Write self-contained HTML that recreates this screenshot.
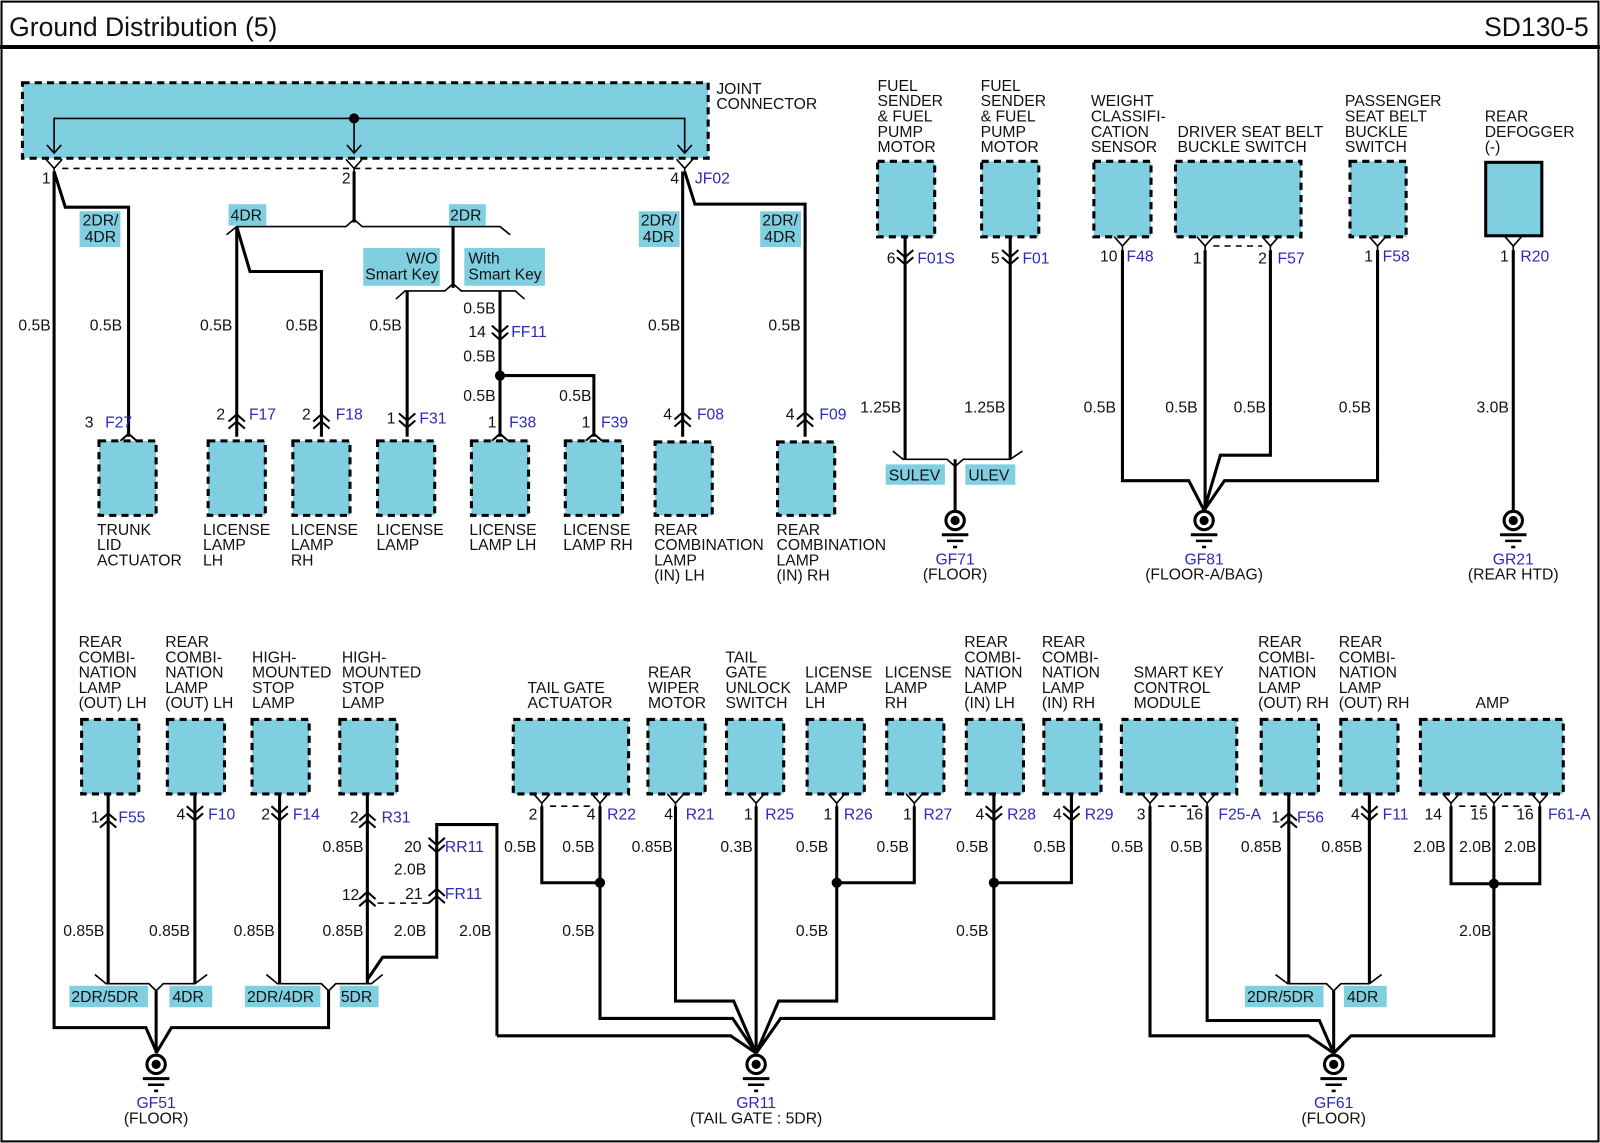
<!DOCTYPE html>
<html><head><meta charset="utf-8"><style>
html,body{margin:0;padding:0;background:#fff}
svg{display:block}
text{font-family:"Liberation Sans",Arial,sans-serif;font-size:15.4px;fill:#111}
.b{fill:#2a2ab8}
.ti{font-size:26px}
.c{text-anchor:middle}
.w{fill:none;stroke:#000;stroke-width:3}
.n{fill:none;stroke:#000;stroke-width:1.6}
.d{fill:none;stroke:#000;stroke-width:1.5;stroke-dasharray:6 5}
.bx{fill:#80cfe1;stroke:#000;stroke-width:3;stroke-dasharray:7 5}
.tag{fill:#80cfe1}
</style></head><body>
<svg width="1600" height="1143" viewBox="0 0 1568 1120" xmlns="http://www.w3.org/2000/svg">
<defs>
<g id="gnd"><circle r="9" fill="#fff" stroke="#000" stroke-width="3"/><circle r="4.5" fill="#000"/><path d="M-13,14H13" stroke="#000" stroke-width="3"/><path d="M-8,20H8" stroke="#000" stroke-width="2.5"/><path d="M-2,26H2" stroke="#000" stroke-width="2.5"/></g>
<path id="pv" d="M-8,0 L0,9 L8,0 M0,9 V13" fill="none" stroke="#000" stroke-width="1.6"/>
<path id="dd" d="M-8,-10 L0,-3 L8,-10 M-8,-3 L0,4 L8,-3" fill="none" stroke="#000" stroke-width="2"/>
<path id="uu" d="M-8,3 L0,-4 L8,3 M-8,10 L0,3 L8,10" fill="none" stroke="#000" stroke-width="2"/>
<path id="u1" d="M-8,7 L0,0 L8,7" fill="none" stroke="#000" stroke-width="2"/>
</defs>
<rect x="1.5" y="1.5" width="1565" height="1117" fill="none" stroke="#000" stroke-width="2"/>
<path d="M0,46H1568" stroke="#000" stroke-width="4"/>
<text x="9" y="35" class="ti">Ground Distribution (5)</text>
<text x="1557" y="35" class="ti" text-anchor="end">SD130-5</text>

<rect x="22" y="81" width="672" height="74" class="bx"/>
<path d="M53,150V116H671V150M347,116V150" class="n"/>
<circle cx="347" cy="116" r="5" fill="#000"/>
<path d="M46,142L53,150L60,142M340,142L347,150L354,142M664,142L671,150L678,142" class="n"/>
<use href="#pv" x="53" y="156"/><use href="#pv" x="347" y="156"/><use href="#pv" x="671" y="156"/>
<path d="M61,165H663" class="d"/>
<text x="702" y="92">JOINT</text><text x="702" y="107">CONNECTOR</text>
<text x="41" y="180">1</text><text x="335" y="180">2</text><text x="657" y="180">4</text><text x="681" y="180" class="b">JF02</text>

<path d="M53,168V1007H143L153,1030" class="w"/>
<path d="M53,168L64,203H126V428" class="w"/>
<rect x="78" y="207" width="40" height="35" class="tag"/><text x="81" y="221">2DR/</text><text x="83" y="237">4DR</text>
<text x="18" y="324">0.5B</text><text x="88" y="324">0.5B</text>
<use href="#u1" x="126" y="425"/><text x="83" y="419">3</text><text x="103" y="419" class="b">F27</text>
<rect x="97" y="432" width="56" height="73" class="bx"/>
<text x="95" y="524">TRUNK</text><text x="95" y="539">LID</text><text x="95" y="554">ACTUATOR</text>

<path d="M347,168V218" class="w"/>
<path d="M222,230L232,222H339L347,215L355,222H490L500,230" class="n"/>
<path d="M232,222V428M232,222L245,266H315V428M444,222V282" class="w"/>
<rect x="224" y="200" width="37" height="21" class="tag"/><text x="226" y="216">4DR</text>
<rect x="440" y="200" width="36" height="21" class="tag"/><text x="441" y="216">2DR</text>
<path d="M388,293L397,285H436L444,278L452,285H505L514,293" class="n"/>
<rect x="356" y="243" width="75" height="37" class="tag"/><text x="398" y="258">W/O</text><text x="358" y="274">Smart Key</text>
<rect x="455" y="243" width="79" height="37" class="tag"/><text x="459" y="258">With</text><text x="459" y="274">Smart Key</text>
<path d="M399,285V428M490,285V428M490,368H582V428" class="w"/>
<circle cx="490" cy="368" r="5" fill="#000"/>
<use href="#uu" x="232" y="410"/><text x="212" y="411">2</text><text x="244" y="411" class="b">F17</text>
<use href="#uu" x="315" y="410"/><text x="296" y="411">2</text><text x="329" y="411" class="b">F18</text>
<use href="#dd" x="399" y="415"/><text x="379" y="415">1</text><text x="411" y="415" class="b">F31</text>
<use href="#dd" x="490" y="329"/><text x="459" y="330">14</text><text x="501" y="330" class="b">FF11</text>
<use href="#u1" x="490" y="425"/><text x="478" y="419">1</text><text x="499" y="419" class="b">F38</text>
<use href="#u1" x="582" y="425"/><text x="570" y="419">1</text><text x="589" y="419" class="b">F39</text>
<text x="196" y="324">0.5B</text><text x="280" y="324">0.5B</text><text x="362" y="324">0.5B</text>
<text x="454" y="307">0.5B</text><text x="454" y="354">0.5B</text><text x="454" y="393">0.5B</text><text x="548" y="393">0.5B</text>
<rect x="204" y="432" width="56" height="73" class="bx"/><rect x="287" y="432" width="56" height="73" class="bx"/>
<rect x="370" y="432" width="56" height="73" class="bx"/><rect x="462" y="432" width="56" height="73" class="bx"/>
<rect x="554" y="432" width="56" height="73" class="bx"/>
<text x="199" y="524">LICENSE</text><text x="199" y="539">LAMP</text><text x="199" y="554">LH</text>
<text x="285" y="524">LICENSE</text><text x="285" y="539">LAMP</text><text x="285" y="554">RH</text>
<text x="369" y="524">LICENSE</text><text x="369" y="539">LAMP</text>
<text x="460" y="524">LICENSE</text><text x="460" y="539">LAMP LH</text>
<text x="552" y="524">LICENSE</text><text x="552" y="539">LAMP RH</text>

<path d="M669,168V428M671,168L681,200H789V428" class="w"/>
<rect x="626" y="207" width="40" height="35" class="tag"/><text x="628" y="221">2DR/</text><text x="630" y="237">4DR</text>
<rect x="745" y="207" width="40" height="35" class="tag"/><text x="747" y="221">2DR/</text><text x="749" y="237">4DR</text>
<text x="635" y="324">0.5B</text><text x="753" y="324">0.5B</text>
<use href="#uu" x="669" y="408"/><text x="650" y="411">4</text><text x="683" y="411" class="b">F08</text>
<use href="#uu" x="789" y="408"/><text x="770" y="411">4</text><text x="803" y="411" class="b">F09</text>
<rect x="642" y="433" width="56" height="72" class="bx"/><rect x="762" y="433" width="56" height="72" class="bx"/>
<text x="641" y="524">REAR</text><text x="641" y="539">COMBINATION</text><text x="641" y="554">LAMP</text><text x="641" y="569">(IN) LH</text>
<text x="761" y="524">REAR</text><text x="761" y="539">COMBINATION</text><text x="761" y="554">LAMP</text><text x="761" y="569">(IN) RH</text>

<rect x="860" y="158" width="56" height="74" class="bx"/><rect x="962" y="158" width="56" height="74" class="bx"/>
<text x="860" y="89">FUEL</text><text x="860" y="104">SENDER</text><text x="860" y="119">&amp; FUEL</text><text x="860" y="134">PUMP</text><text x="860" y="149">MOTOR</text>
<text x="961" y="89">FUEL</text><text x="961" y="104">SENDER</text><text x="961" y="119">&amp; FUEL</text><text x="961" y="134">PUMP</text><text x="961" y="149">MOTOR</text>
<path d="M887,232V450M990,232V450M936,450V500" class="w"/>
<use href="#dd" x="887" y="255"/><text x="869" y="258">6</text><text x="899" y="258" class="b">F01S</text>
<use href="#dd" x="990" y="255"/><text x="971" y="258">5</text><text x="1002" y="258" class="b">F01</text>
<text x="843" y="404">1.25B</text><text x="945" y="404">1.25B</text>
<path d="M875,442L885,450H928L936,457L944,450H990L1002,442" class="n"/>
<rect x="868" y="455" width="58" height="20" class="tag"/><text x="871" y="471">SULEV</text>
<rect x="946" y="455" width="49" height="20" class="tag"/><text x="949" y="471">ULEV</text>
<use href="#gnd" x="936" y="510"/>
<text x="936" y="553" class="c b">GF71</text><text x="936" y="568" class="c">(FLOOR)</text>

<rect x="1072" y="158" width="56" height="74" class="bx"/><rect x="1152" y="158" width="123" height="74" class="bx"/>
<rect x="1323" y="158" width="55" height="74" class="bx"/>
<text x="1069" y="104">WEIGHT</text><text x="1069" y="119">CLASSIFI-</text><text x="1069" y="134">CATION</text><text x="1069" y="149">SENSOR</text>
<text x="1154" y="134">DRIVER SEAT BELT</text><text x="1154" y="149">BUCKLE SWITCH</text>
<text x="1318" y="104">PASSENGER</text><text x="1318" y="119">SEAT BELT</text><text x="1318" y="134">BUCKLE</text><text x="1318" y="149">SWITCH</text>
<use href="#pv" x="1100" y="232"/><use href="#pv" x="1181" y="232"/><use href="#pv" x="1245" y="232"/><use href="#pv" x="1350" y="232"/>
<path d="M1189,241H1237" class="d"/>
<text x="1078" y="256">10</text><text x="1104" y="256" class="b">F48</text>
<text x="1169" y="258">1</text><text x="1233" y="258">2</text><text x="1252" y="258" class="b">F57</text>
<text x="1337" y="256">1</text><text x="1355" y="256" class="b">F58</text>
<path d="M1100,245V471H1165L1180,500M1181,245V500M1245,245V446H1196L1180,500M1350,245V471H1200L1180,500" class="w"/>
<text x="1062" y="404">0.5B</text><text x="1142" y="404">0.5B</text><text x="1209" y="404">0.5B</text><text x="1312" y="404">0.5B</text>
<use href="#gnd" x="1180" y="510"/>
<text x="1180" y="553" class="c b">GF81</text><text x="1180" y="568" class="c">(FLOOR-A/BAG)</text>

<rect x="1456" y="159" width="55" height="72" fill="#80cfe1" stroke="#000" stroke-width="3"/>
<text x="1455" y="119">REAR</text><text x="1455" y="134">DEFOGGER</text><text x="1455" y="149">(-)</text>
<use href="#pv" x="1483" y="232"/>
<path d="M1483,245V500" class="w"/>
<text x="1470" y="256">1</text><text x="1490" y="256" class="b">R20</text>
<text x="1447" y="404">3.0B</text>
<use href="#gnd" x="1483" y="510"/>
<text x="1483" y="553" class="c b">GR21</text><text x="1483" y="568" class="c">(REAR HTD)</text>

<rect x="80" y="705" width="56" height="73" class="bx"/><rect x="164" y="705" width="56" height="73" class="bx"/>
<rect x="247" y="705" width="56" height="73" class="bx"/><rect x="333" y="705" width="56" height="73" class="bx"/>
<text x="77" y="634">REAR</text><text x="77" y="649">COMBI-</text><text x="77" y="664">NATION</text><text x="77" y="679">LAMP</text><text x="77" y="694">(OUT) LH</text>
<text x="162" y="634">REAR</text><text x="162" y="649">COMBI-</text><text x="162" y="664">NATION</text><text x="162" y="679">LAMP</text><text x="162" y="694">(OUT) LH</text>
<text x="247" y="649">HIGH-</text><text x="247" y="664">MOUNTED</text><text x="247" y="679">STOP</text><text x="247" y="694">LAMP</text>
<text x="335" y="649">HIGH-</text><text x="335" y="664">MOUNTED</text><text x="335" y="679">STOP</text><text x="335" y="694">LAMP</text>
<path d="M106,778V964M191,778V964M274,778V964M360,778V964" class="w"/>
<use href="#uu" x="106" y="801"/><text x="89" y="806">1</text><text x="116" y="806" class="b">F55</text>
<use href="#dd" x="191" y="800"/><text x="173" y="803">4</text><text x="204" y="803" class="b">F10</text>
<use href="#dd" x="274" y="800"/><text x="256" y="803">2</text><text x="287" y="803" class="b">F14</text>
<use href="#uu" x="360" y="801"/><text x="343" y="806">2</text><text x="374" y="806" class="b">R31</text>
<use href="#uu" x="360" y="878"/><text x="335" y="882">12</text>
<path d="M370,885H420" class="d"/>
<path d="M487,1015V808H428V938H375L360,960" class="w"/>
<use href="#dd" x="428" y="831"/><text x="396" y="835">20</text><text x="436" y="835" class="b">RR11</text>
<use href="#uu" x="428" y="875"/><text x="397" y="881">21</text><text x="436" y="881" class="b">FR11</text>
<text x="386" y="857">2.0B</text>
<text x="62" y="917">0.85B</text><text x="146" y="917">0.85B</text><text x="229" y="917">0.85B</text><text x="316" y="917">0.85B</text><text x="316" y="835">0.85B</text>
<text x="386" y="917">2.0B</text><text x="450" y="917">2.0B</text>
<path d="M93,955L104,964H146L153,971L160,964H191L203,955M261,955L272,964H315L322,971L329,964H364L375,955" class="n"/>
<path d="M153,971V1032M322,971V1007H168L153,1032" class="w"/>
<rect x="68" y="966" width="77" height="21" class="tag"/><text x="70" y="982">2DR/5DR</text>
<rect x="166" y="966" width="42" height="21" class="tag"/><text x="169" y="982">4DR</text>
<rect x="240" y="966" width="74" height="21" class="tag"/><text x="242" y="982">2DR/4DR</text>
<rect x="333" y="966" width="38" height="21" class="tag"/><text x="334" y="982">5DR</text>
<use href="#gnd" x="153" y="1043"/>
<text x="153" y="1086" class="c b">GF51</text><text x="153" y="1101" class="c">(FLOOR)</text>

<rect x="503" y="705" width="113" height="73" class="bx"/><rect x="635" y="705" width="56" height="73" class="bx"/>
<rect x="712" y="705" width="56" height="73" class="bx"/><rect x="791" y="705" width="56" height="73" class="bx"/>
<rect x="869" y="705" width="56" height="73" class="bx"/><rect x="947" y="705" width="56" height="73" class="bx"/>
<rect x="1023" y="705" width="56" height="73" class="bx"/>
<text x="517" y="679">TAIL GATE</text><text x="517" y="694">ACTUATOR</text>
<text x="635" y="664">REAR</text><text x="635" y="679">WIPER</text><text x="635" y="694">MOTOR</text>
<text x="711" y="649">TAIL</text><text x="711" y="664">GATE</text><text x="711" y="679">UNLOCK</text><text x="711" y="694">SWITCH</text>
<text x="789" y="664">LICENSE</text><text x="789" y="679">LAMP</text><text x="789" y="694">LH</text>
<text x="867" y="664">LICENSE</text><text x="867" y="679">LAMP</text><text x="867" y="694">RH</text>
<text x="945" y="634">REAR</text><text x="945" y="649">COMBI-</text><text x="945" y="664">NATION</text><text x="945" y="679">LAMP</text><text x="945" y="694">(IN) LH</text>
<text x="1021" y="634">REAR</text><text x="1021" y="649">COMBI-</text><text x="1021" y="664">NATION</text><text x="1021" y="679">LAMP</text><text x="1021" y="694">(IN) RH</text>
<use href="#pv" x="531" y="778"/><use href="#pv" x="588" y="778"/><use href="#pv" x="662" y="778"/><use href="#pv" x="741" y="778"/>
<use href="#pv" x="820" y="778"/><use href="#pv" x="896" y="778"/>
<path d="M539,790H580" class="d"/>
<text x="518" y="803">2</text><text x="575" y="803">4</text><text x="595" y="803" class="b">R22</text>
<text x="651" y="803">4</text><text x="672" y="803" class="b">R21</text>
<text x="729" y="803">1</text><text x="750" y="803" class="b">R25</text>
<text x="807" y="803">1</text><text x="827" y="803" class="b">R26</text>
<text x="885" y="803">1</text><text x="905" y="803" class="b">R27</text>
<use href="#dd" x="974" y="800"/><text x="956" y="803">4</text><text x="987" y="803" class="b">R28</text>
<use href="#dd" x="1050" y="800"/><text x="1032" y="803">4</text><text x="1063" y="803" class="b">R29</text>
<path d="M487,1015H716L741,1032M531,790V865H588M588,790V998H718L741,1032M662,790V981H719L741,1032M741,790V1032M820,790V981H763L741,1032M896,790V865H820M974,778V998H765L741,1032M1050,778V865H974" class="w"/>
<circle cx="588" cy="865" r="5" fill="#000"/><circle cx="820" cy="865" r="5" fill="#000"/><circle cx="974" cy="865" r="5" fill="#000"/>
<text x="494" y="835">0.5B</text><text x="551" y="835">0.5B</text><text x="619" y="835">0.85B</text><text x="706" y="835">0.3B</text>
<text x="780" y="835">0.5B</text><text x="859" y="835">0.5B</text><text x="937" y="835">0.5B</text><text x="1013" y="835">0.5B</text>
<text x="551" y="917">0.5B</text><text x="780" y="917">0.5B</text><text x="937" y="917">0.5B</text>
<use href="#gnd" x="741" y="1043"/>
<text x="741" y="1086" class="c b">GR11</text><text x="741" y="1101" class="c">(TAIL GATE : 5DR)</text>

<rect x="1099" y="705" width="113" height="73" class="bx"/><rect x="1236" y="705" width="56" height="73" class="bx"/>
<rect x="1314" y="705" width="56" height="73" class="bx"/><rect x="1392" y="705" width="140" height="73" class="bx"/>
<text x="1111" y="664">SMART KEY</text><text x="1111" y="679">CONTROL</text><text x="1111" y="694">MODULE</text>
<text x="1233" y="634">REAR</text><text x="1233" y="649">COMBI-</text><text x="1233" y="664">NATION</text><text x="1233" y="679">LAMP</text><text x="1233" y="694">(OUT) RH</text>
<text x="1312" y="634">REAR</text><text x="1312" y="649">COMBI-</text><text x="1312" y="664">NATION</text><text x="1312" y="679">LAMP</text><text x="1312" y="694">(OUT) RH</text>
<text x="1446" y="694">AMP</text>
<use href="#pv" x="1127" y="778"/><use href="#pv" x="1183" y="778"/>
<use href="#pv" x="1422" y="778"/><use href="#pv" x="1464" y="778"/><use href="#pv" x="1509" y="778"/>
<path d="M1135,790H1175M1430,790H1456M1472,790H1501" class="d"/>
<text x="1114" y="803">3</text><text x="1162" y="803">16</text><text x="1194" y="803" class="b">F25-A</text>
<use href="#uu" x="1263" y="801"/><text x="1246" y="806">1</text><text x="1271" y="806" class="b">F56</text>
<use href="#dd" x="1342" y="800"/><text x="1324" y="803">4</text><text x="1355" y="803" class="b">F11</text>
<text x="1396" y="803">14</text><text x="1441" y="803">15</text><text x="1486" y="803">16</text><text x="1517" y="803" class="b">F61-A</text>
<path d="M1127,790V1015H1282L1307,1032M1183,790V1000H1293L1307,1032M1263,778V964M1342,778V964M1307,971V1032M1422,790V866H1509V790M1464,790V1015H1324L1307,1032" class="w"/>
<circle cx="1464" cy="866" r="5" fill="#000"/>
<path d="M1250,955L1262,964H1300L1307,971L1314,964H1342L1354,955" class="n"/>
<rect x="1220" y="966" width="77" height="21" class="tag"/><text x="1222" y="982">2DR/5DR</text>
<rect x="1317" y="966" width="42" height="21" class="tag"/><text x="1320" y="982">4DR</text>
<text x="1089" y="835">0.5B</text><text x="1147" y="835">0.5B</text><text x="1216" y="835">0.85B</text><text x="1295" y="835">0.85B</text>
<text x="1385" y="835">2.0B</text><text x="1430" y="835">2.0B</text><text x="1474" y="835">2.0B</text><text x="1430" y="917">2.0B</text>
<use href="#gnd" x="1307" y="1043"/>
<text x="1307" y="1086" class="c b">GF61</text><text x="1307" y="1101" class="c">(FLOOR)</text>
</svg>
</body></html>
